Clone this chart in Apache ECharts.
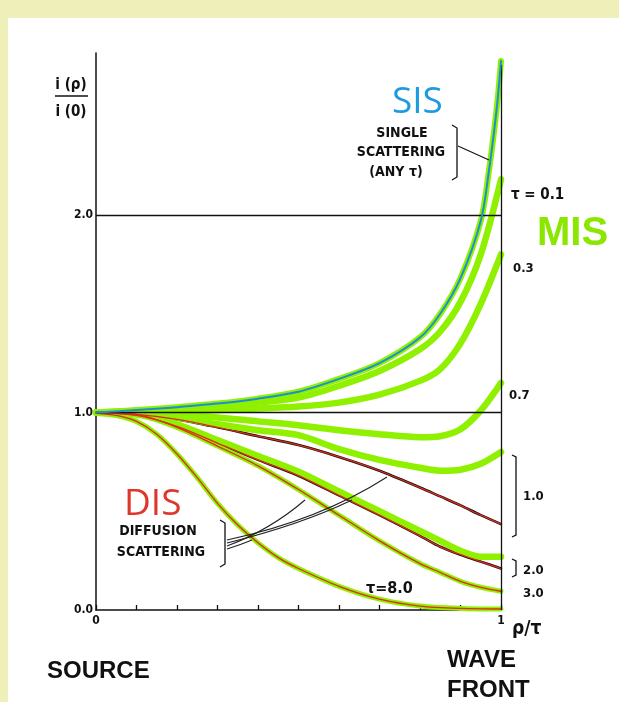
<!DOCTYPE html>
<html><head><meta charset="utf-8">
<script src="https://cdn.jsdelivr.net/npm/echarts@6/dist/echarts.min.js"></script>
<style>
html,body{margin:0;padding:0;background:#efefb9;}
#wrap{position:relative;width:619px;height:702px;overflow:hidden;}
#white{position:absolute;left:8px;top:18px;width:611px;height:684px;background:#fff;}
#chart{position:absolute;left:0;top:0;width:619px;height:702px;}
</style></head>
<body><div id="wrap"><div id="white"></div><div id="chart"></div></div>
<script>
// ---- data (x = ρ/τ, y = i(ρ)/i(0)) ----
const xs      = [0, 0.1, 0.2, 0.3, 0.4, 0.5, 0.6, 0.7, 0.8, 0.85, 0.9, 0.95, 1.0];
const sisX    = [0, 0.1, 0.2, 0.3, 0.4, 0.5, 0.6, 0.7, 0.8, 0.85, 0.9, 0.95, 0.97, 0.99, 1.0];
const sisY    = [1.0, 1.012, 1.027, 1.045, 1.07, 1.105, 1.17, 1.25, 1.38, 1.50, 1.68, 1.97, 2.22, 2.55, 2.78];
const mis01   = [1.0, 1.008, 1.018, 1.03, 1.05, 1.075, 1.135, 1.21, 1.32, 1.41, 1.56, 1.80, 2.18];
const mis03   = [1.0, 1.004, 1.008, 1.013, 1.02, 1.03, 1.05, 1.09, 1.16, 1.22, 1.35, 1.55, 1.80];
const mis07   = [1.0, 0.998, 0.99, 0.975, 0.955, 0.935, 0.91, 0.89, 0.875, 0.88, 0.915, 1.01, 1.15];
const mis10   = [1.0, 0.995, 0.975, 0.94, 0.91, 0.885, 0.815, 0.76, 0.72, 0.705, 0.71, 0.74, 0.80];
const mis20   = [1.0, 0.99, 0.94, 0.86, 0.78, 0.70, 0.60, 0.50, 0.40, 0.35, 0.30, 0.27, 0.27];
const dif10   = [1.0, 0.99, 0.965, 0.925, 0.88, 0.835, 0.775, 0.705, 0.62, 0.575, 0.53, 0.48, 0.435];
const dif20   = [1.0, 0.985, 0.93, 0.845, 0.76, 0.68, 0.58, 0.48, 0.375, 0.32, 0.28, 0.245, 0.21];
const dif30   = [1.0, 0.99, 0.925, 0.83, 0.73, 0.61, 0.48, 0.35, 0.235, 0.19, 0.145, 0.115, 0.095];
const dif80X  = [0, 0.05, 0.1, 0.15, 0.2, 0.25, 0.3, 0.35, 0.4, 0.45, 0.5, 0.6, 0.7, 0.8, 0.9, 1.0];
const dif80   = [0.995, 0.985, 0.955, 0.89, 0.79, 0.67, 0.54, 0.43, 0.34, 0.265, 0.21, 0.12, 0.055, 0.02, 0.008, 0.005];
const yTicks  = [0, 1, 2];

const GREEN = '#8ff000', RED = '#e02a1a', BLUE = '#1a8fd6', INK = '#111';
const COND = "'DejaVu Sans Condensed','Liberation Sans Narrow','DejaVu Sans',sans-serif";
const zip = (a, b) => a.map((v, i) => [v, b[i]]);

function line(name, data, color, width, z) {
  return { name, type: 'line', data, smooth: 0.3, showSymbol: false,
    silent: true, z, lineStyle: { color, width, cap: 'round', join: 'round' } };
}

const chart = echarts.init(document.getElementById('chart'), null, { renderer: 'canvas' });

const series = [
  { name: 'frame', type: 'line', data: [[0, 1]], showSymbol: false, lineStyle: { opacity: 0 }, z: 1, silent: true,
    markLine: { silent: true, symbol: 'none', label: { show: false },
      lineStyle: { color: INK, width: 1.3, type: 'solid' },
      data: [ { yAxis: 1 }, { yAxis: 2 },
              [ { coord: [1, 0] }, { coord: [1, 2.76] } ] ] } },
  line('d10k', zip(xs, dif10), '#111', 2.6, 2),
  line('d20k', zip(xs, dif20), '#111', 2.6, 2),
  line('d80g', zip(dif80X, dif80), GREEN, 5, 3),
  line('d30g', zip(xs, dif30), GREEN, 5, 3),
  line('m20', zip(xs, mis20), GREEN, 6.5, 3),
  line('m10', zip(xs, mis10), GREEN, 6.5, 3),
  line('m07', zip(xs, mis07), GREEN, 6.5, 3),
  line('m03', zip(xs, mis03), GREEN, 6.5, 3),
  line('m01', zip(xs, mis01), GREEN, 6.5, 3),
  line('sisg', zip(sisX, sisY), GREEN, 6, 3),
  line('d10', zip(xs, dif10), RED, 1.3, 4),
  line('d20', zip(xs, dif20), RED, 1.3, 4),
  line('d30', zip(xs, dif30), RED, 1.3, 4),
  line('d80', zip(dif80X, dif80), RED, 1.3, 4),
  line('sis', zip(sisX, sisY), BLUE, 2, 5)
];

function T(text, x, y, font, fill, align) {
  return { type: 'text', silent: true, z: 100,
    style: { text, x, y, font, fill: fill || INK, textAlign: align || 'left', textVerticalAlign: 'middle' } };
}
function L(x1, y1, x2, y2, w) {
  return { type: 'line', silent: true, z: 100, shape: { x1, y1, x2, y2 }, style: { stroke: INK, lineWidth: w || 1.2 } };
}
function P(points) {
  return { type: 'polyline', silent: true, z: 100, shape: { points }, style: { stroke: INK, lineWidth: 1.3, fill: null } };
}
function B(x1, y1, cx, cy, x2, y2) {
  return { type: 'bezierCurve', silent: true, z: 100, shape: { x1, y1, x2, y2, cpx1: cx, cpy1: cy },
    style: { stroke: '#222', lineWidth: 1.1, fill: null } };
}

const F14 = 'bold 14px ' + COND;
const F13 = 'bold 13px ' + COND;
const graphics = [
  // y axis title
  T('i (ρ)', 71, 85, 'bold 15px ' + COND, INK, 'center'),
  L(55, 96, 88, 96, 1.5),
  T('i (0)', 71, 112, 'bold 15px ' + COND, INK, 'center'),
  // x label
  T('ρ/τ', 512, 629, 'bold 19px ' + COND, INK, 'left'),
  // big labels
  T('SIS', 392, 102, '37px "Open Sans","Liberation Sans",sans-serif', '#1e9be0', 'left'),
  T('MIS', 537, 234, 'bold 40px "Liberation Sans",Arial,sans-serif', '#8be600', 'left'),
  T('DIS', 124, 504, '37px "Open Sans","Liberation Sans",sans-serif', '#e0352a', 'left'),
  // single scattering note
  T('SINGLE', 402, 133, F14, INK, 'center'),
  T('SCATTERING', 401, 152, F14, INK, 'center'),
  T('(ANY τ)', 396, 172, F14, INK, 'center'),
  P([[452, 125], [457, 128], [457, 177], [452, 180]]),
  L(458, 146, 489, 160, 1.1),
  // tau labels
  T('τ = 0.1', 511, 195, 'bold 15px ' + COND),
  T('0.3', 513, 269, F13),
  T('0.7', 509, 396, F13),
  P([[512, 455], [516, 457], [516, 535], [512, 537]]),
  T('1.0', 523, 497, F13),
  P([[512, 559], [516, 561], [516, 575], [512, 577]]),
  T('2.0', 523, 571, F13),
  T('3.0', 523, 594, F13),
  T('τ=8.0', 366, 589, 'bold 16px ' + COND),
  // diffusion note
  T('DIFFUSION', 158, 531, F14, INK, 'center'),
  T('SCATTERING', 161, 552, F14, INK, 'center'),
  P([[220, 520], [225, 523], [225, 564], [220, 567]]),
  B(227, 540, 320, 520, 387, 477),
  B(227, 543, 300, 525, 352, 500),
  B(227, 546, 270, 530, 305, 500),
  B(227, 549, 240, 545, 252, 540),
  // bottom captions
  T('SOURCE', 47, 671, 'bold 24px "Liberation Sans",Arial,sans-serif'),
  T('WAVE', 447, 660, 'bold 24px "Liberation Sans",Arial,sans-serif'),
  T('FRONT', 447, 690, 'bold 24px "Liberation Sans",Arial,sans-serif')
];

chart.setOption({
  animation: false,
  backgroundColor: 'transparent',
  grid: { left: 96, right: 118, top: 53, bottom: 92, containLabel: false },
  xAxis: {
    type: 'value', min: 0, max: 1, interval: 0.1,
    axisLine: { show: true, lineStyle: { color: INK, width: 1.5 } },
    axisTick: { show: true, inside: true, length: 5, lineStyle: { color: INK, width: 1.3 } },
    splitLine: { show: false },
    axisLabel: { margin: 5, color: INK, fontFamily: COND, fontWeight: 'bold', fontSize: 12,
      formatter: v => (Math.abs(v) < 1e-9 ? '0' : Math.abs(v - 1) < 1e-9 ? '1' : '') }
  },
  yAxis: {
    type: 'value', min: 0, max: 2.82, interval: 1,
    axisLine: { show: true, lineStyle: { color: INK, width: 1.5 } },
    axisTick: { show: false },
    splitLine: { show: false },
    axisLabel: { margin: 3, color: INK, fontFamily: COND, fontWeight: 'bold', fontSize: 12,
      formatter: v => (yTicks.indexOf(Math.round(v * 1000) / 1000) >= 0 ? v.toFixed(1) : '') }
  },
  series,
  graphic: { elements: graphics }
});
</script>
</body></html>
